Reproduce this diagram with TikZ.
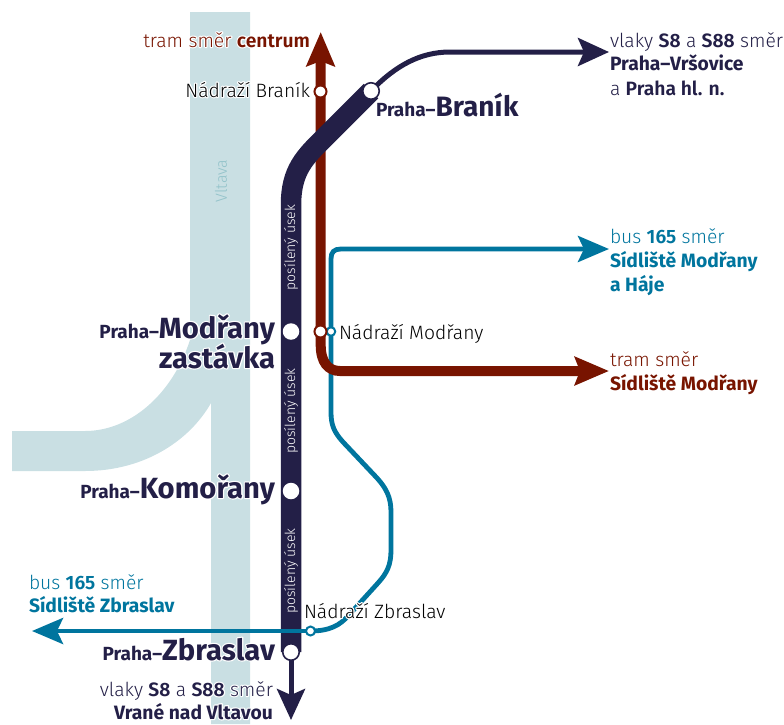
\documentclass[tikz,border=0pt]{standalone}
\usepackage{fontspec}
\setmainfont{Fira Sans}
\newfontfamily\lt{Fira Sans Light}
\usetikzlibrary{arrows.meta}
\pgfdeclarelayer{under}
\pgfsetlayers{under,main}
\definecolor{navy}{HTML}{231F47}
\definecolor{maroon}{HTML}{781400}
\definecolor{teal}{HTML}{00759E}
\definecolor{river}{HTML}{C9DFE3}
\definecolor{vlt}{HTML}{93C3CA}
\newcommand{\fs}[1]{\fontsize{#1}{#1}\selectfont}
\newcommand{\sm}{\fs{19.3}}
\newcommand{\pr}{\fs{19}}
\newcommand{\bg}{\fs{29.2}}
% white halo behind a label: one stroked white copy under the filled text
\newcommand{\halo}[1]{\leavevmode\rlap{\special{pdf:code q 1 Tr 2.4 w 1 J 1 j 1 1 1 RG}#1\special{pdf:code Q}}#1}
\tikzset{
  lab/.style={inner sep=0pt,outer sep=0pt,font=\lt\sm},
  le/.style={lab,anchor=base east},
  lw/.style={lab,anchor=base west},
  trainline/.style={draw=navy,line width=5pt},
  thick bar/.style={draw=navy,line width=20.5pt},
  tramline/.style={draw=maroon,line width=10pt},
  busline/.style={draw=teal,line width=4.8pt},
  navytip/.style={-{Stealth[length=31pt,width=28pt,inset=6pt]}},
  tramtip/.style={-{Stealth[length=34pt,width=28pt,inset=5pt]}},
  bustip/.style={-{Stealth[length=31pt,width=26pt,inset=6pt]}},
  bigst/.style={circle,fill=white,inner sep=0pt,minimum size=16.5pt},
  edgest/.style={circle,fill=white,inner sep=0pt,minimum size=16.5pt,draw=navy,line width=1.6pt},
  tramst/.style={circle,fill=white,inner sep=0pt,minimum size=12pt,draw=maroon,line width=2pt},
  busst/.style={circle,fill=white,inner sep=0pt,minimum size=8.5pt,draw=teal,line width=2pt},
  usek/.style={inner sep=0pt,text=white,rotate=90,font=\lt\fs{14}},
}
\begin{document}
\begin{tikzpicture}[x=1pt,y=-1pt]
\useasboundingbox (0,0) rectangle (784,724);
% coordinates
\coordinate (tramtop) at (320.7,32);
\coordinate (tramend) at (609,371);
\coordinate (trainend) at (609,52);
\coordinate (trainsouth) at (291,720);
\coordinate (busend) at (609,249);
\coordinate (buswest) at (32,631);
% stations
\node[tramst] (nbranik) at (320.5,91.5) {};
\node[busst]  (nmodranybus) at (331,331.5) {};
\node[tramst] (nmodrany) at (320.5,331.5) {};
\node[busst,minimum size=9pt]  (nzbraslav) at (310.5,631) {};
\node[edgest] (branik) at (371,91) {};
\node[bigst]  (modrany) at (291,331.5) {};
\node[bigst]  (komorany) at (291,491) {};
\node[edgest] (zbraslav) at (291,652) {};
\begin{pgfonlayer}{under}
% river
\fill[river] (190,12) -- (250,12) -- (250,724) -- (211,724) -- (211,403)
  .. controls (190,440) and (145,471) .. (85,471) -- (12,471) -- (12,431) -- (85,431)
  .. controls (130,431) and (172,395) .. (190,340) -- cycle;
\node[inner sep=0pt,rotate=90,text=vlt,font=\lt\fs{16}] (vltava) at (221,181) {Vltava};
% lines
\draw[busline,bustip] (nzbraslav.center)
  .. controls (330,631) and (340,625) .. (348,616)
  -- (378,583) .. controls (387,573) and (391,565) .. (391,550)
  -- (391,512) .. controls (391,497) and (386,488) .. (377,478)
  -- (343,442) .. controls (334,432) and (331,425) .. (331,412)
  -- (nmodranybus.center) -- (331,259) .. controls (331,252) and (334,249) .. (341,249) -- (busend);
\draw[tramline,tramtip] (nmodrany.center) -- (nbranik.center) -- (tramtop);
\draw[tramline,tramtip] (nmodrany.center) -- (320.7,345) .. controls (320.7,362) and (328,371) .. (340,371) -- (tramend);
\draw[thick bar] (zbraslav.center) -- (komorany.center) -- (modrany.center) -- (291,205) .. controls (291,170) and (305,157) .. (325,137) -- (branik.center);
\draw[trainline,navytip] (branik.center) .. controls (395,66) and (420,52) .. (450,52) -- (trainend);
\draw[trainline,navytip] (zbraslav.center) -- (trainsouth);
\draw[busline,bustip] (nzbraslav.center) -- (buswest);
\end{pgfonlayer}
% bar labels
\node[usek] (u1) at (291,247.5) {posílený úsek};
\node[usek] (u2) at (291,411) {posílený úsek};
\node[usek] (u3) at (291,571) {posílený úsek};
% labels
\node[le,text=maroon] (t1) at (310,47) {\halo{tram směr \textbf{centrum}}};
\node[le,text=black] (t2) at (310,97) {\halo{Nádraží Braník}};
\node[lw,text=navy,font=\bfseries\pr] (t3) at (376,116.5) {Praha–{\fs{28}Braník}};
\node[lw,text=navy] (t4a) at (610,47) {vlaky \textbf{S8} a \textbf{S88} směr};
\node[lw,text=navy,font=\bfseries\sm] (t4b) at (610,70) {Praha–Vršovice};
\node[lw,text=navy] (t4c) at (610,95) {a \textbf{Praha hl. n.}};
\node[lw,text=teal] (t5a) at (610,243) {bus \textbf{165} směr};
\node[lw,text=teal,font=\bfseries\sm] (t5b) at (610,267.5) {Sídliště Modřany};
\node[lw,text=teal,font=\bfseries\sm] (t5c) at (610,291.5) {a Háje};
\node[lw,text=maroon] (t6a) at (610,366) {tram směr};
\node[lw,text=maroon,font=\bfseries\sm] (t6b) at (610,390) {Sídliště Modřany};
\node[lw,text=black] (t7) at (339,339) {Nádraží Modřany};
\node[le,text=navy,font=\bfseries\pr] (t8a) at (275,338) {\halo{Praha–{\bg Modřany}}};
\node[le,text=navy,font=\bfseries\bg] (t8b) at (275,368) {\halo{zastávka}};
\node[le,text=navy,font=\bfseries\pr] (t9) at (275,498) {\halo{Praha–{\bg Komořany}}};
\node[lw,text=teal] (t10a) at (29,589) {bus \textbf{165} směr};
\node[lw,text=teal,font=\bfseries\sm] (t10b) at (29,612) {Sídliště Zbraslav};
\node[lw,text=black] (t11) at (304,618) {\halo{Nádraží Zbraslav}};
\node[le,text=navy,font=\bfseries\pr] (t12) at (275,660) {\halo{Praha–{\bg Zbraslav}}};
\node[le,text=navy] (t13a) at (273,696) {\halo{vlaky \textbf{S8} a \textbf{S88} směr}};
\node[le,text=navy,font=\bfseries\sm] (t13b) at (273,719) {\halo{Vrané nad Vltavou}};
\end{tikzpicture}
\end{document}
